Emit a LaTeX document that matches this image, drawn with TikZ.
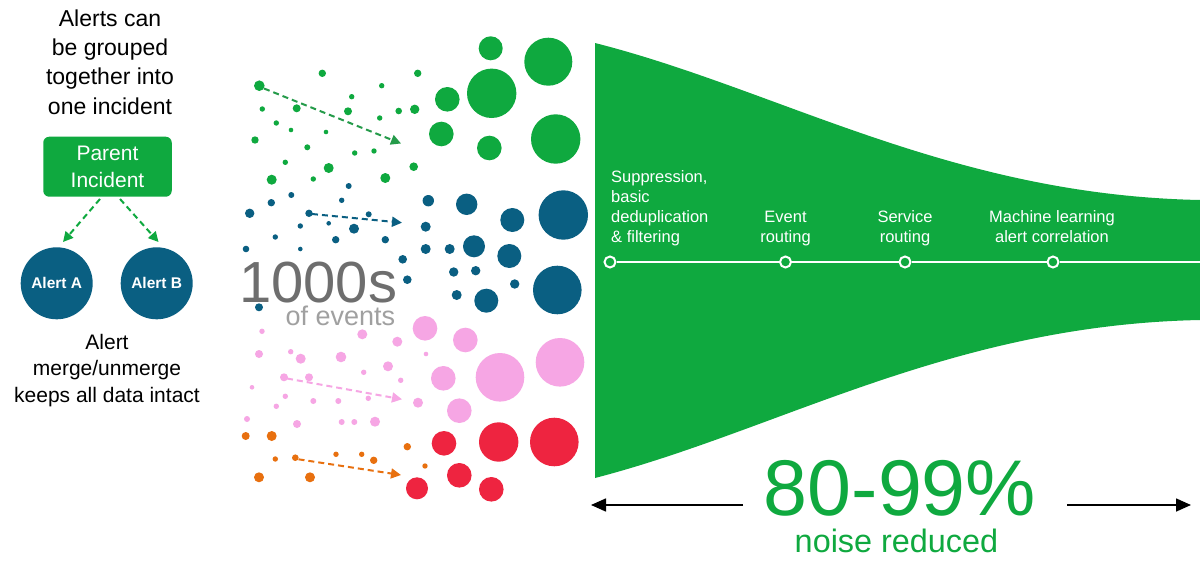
\documentclass[tikz,border=0pt]{standalone}
\usepackage{fontspec}
\setmainfont{Liberation Sans}
\usetikzlibrary{arrows.meta}
\definecolor{gr}{RGB}{15,169,63}
\definecolor{bl}{RGB}{10,95,130}
\definecolor{pk}{RGB}{246,166,228}
\definecolor{rd}{RGB}{238,36,64}
\definecolor{orn}{RGB}{232,112,15}
\definecolor{tgray}{RGB}{110,110,110}
\definecolor{lgray}{RGB}{160,160,160}
\newcommand{\fs}[2]{\fontsize{#1}{#2}\selectfont}
\tikzset{
  darrow/.style={line width=2pt, dash pattern=on 6pt off 4pt, -{Triangle[length=10pt,width=10pt]}},
  blackarrow/.style={line width=1.6pt, black, -{Triangle[length=15pt,width=13pt]}},
  lbl/.style={text=white, inner sep=0pt, font=\fs{16.5}{20}},
  stop/.style={circle, draw=white, fill=gr, line width=2pt, minimum size=11pt, inner sep=0pt},
}
\begin{document}
\begin{tikzpicture}[x=1pt,y=-1pt]
\useasboundingbox (0,0) rectangle (1200,562);
\fill[white] (0,0) rectangle (1200,562);

% ---------- left panel ----------
\node[align=center, inner sep=0pt, anchor=base, font=\fs{23}{29.3}] (grp) at (110,114) {Alerts can\\be grouped\\together into\\one incident};
\node[fill=gr, rounded corners=6pt, minimum width=128.5pt, minimum height=60pt, inner sep=0pt,
      text=white, align=center, font=\fs{21}{26.7}] (parent) at (107.5,166.7) {Parent\\Incident};
\node[circle, fill=bl, minimum size=72pt, inner sep=0pt, text=white, font=\bfseries\fs{15.5}{18}] (alA) at (56.7,283.3) {Alert A};
\node[circle, fill=bl, minimum size=72pt, inner sep=0pt, text=white, font=\bfseries\fs{15.5}{18}] (alB) at (156.7,283.3) {Alert B};
\coordinate (pA) at (100,199);
\coordinate (pB) at (120,199);
\coordinate (tA) at (63,242);
\coordinate (tB) at (158.5,242);
\draw[darrow, gr] (pA) -- (tA);
\draw[darrow, gr] (pB) -- (tB);
\node[align=center, inner sep=0pt, anchor=base, font=\fs{21}{26.5}] (merge) at (107,402) {Alert\\merge/unmerge\\keeps all data intact};

% ---------- dots ----------
% green
\foreach \x/\y/\r in {259.3/85.7/5.3, 322.3/73.3/3.7, 417.7/73.3/3.7, 262.3/109/2.7, 296.7/108.3/4,
  351.7/96.7/2.7, 381.7/85.7/2.7, 348/111.3/4, 379.7/118/2.7, 398.7/111/3.3, 414.7/109.3/4.7,
  276.3/123/2.7, 291/130/2.3, 326/132/2.3, 255/140/3.7, 307.3/147.3/3, 354.7/153/2.7, 374/151/2.7,
  413.7/166.7/4.3, 285.3/162.3/2.7, 328.7/168/5, 271.7/179.7/5, 313.3/179/2.7, 385.3/178/5,
  490.7/48.3/12, 548.3/61.7/24, 447.3/99.3/12.3, 491.7/93.3/24.7, 441.3/134/12.3, 489.3/148/12.3, 555.7/139/24.7}
  \fill[gr] (\x,\y) circle[radius=\r];
% blue
\foreach \x/\y/\r in {348.7/186/3, 291.3/195/3, 271.3/202.7/3.7, 341.7/200.3/2.7, 249.7/213.3/4.7,
  309/213.3/3.7, 368.7/214.3/3, 328.7/223.3/2.3, 300.3/226/2.7, 354/228.7/5, 275.3/237/2.7,
  335.7/239.7/3.7, 385.3/239.7/3.7, 246/249/3.3, 300.3/249/2.3, 402.7/259.3/4.3, 407.3/279.7/4.3, 259/307.3/4,
  428.3/200.7/5.7, 466.7/204.3/10.7, 512.3/220/12, 563.3/215/24.7, 425.7/226.7/5, 425.7/249/5,
  449.7/249/5, 474/246.3/11, 509.3/256/12, 453.7/272/4.7, 475.7/270.7/4.7, 514.7/284/4.7,
  456.7/295/5, 486.3/300.7/12, 557.3/290/24.3}
  \fill[bl] (\x,\y) circle[radius=\r];
% pink
\foreach \x/\y/\r in {262/331.3/2.7, 362.3/334.3/5, 397.3/341.7/5, 259/354/4, 290.7/351.7/2.7,
  300.7/358.7/5, 341/357/5.3, 426/354/2.3, 388/366.3/5, 363.7/372.3/2.7, 284/377.3/4, 309/377.3/4,
  400.7/380.3/2.7, 252/387.3/2.3, 285.3/396.3/2.7, 368.3/398.3/2.7, 418/402.7/5, 276.3/406.3/2.7,
  313.3/401/3, 338.3/401/3, 247/419/3, 297/424/4, 341.7/422/3, 354.3/422/3, 375/421.7/5,
  425/328.3/12.3, 465.3/340/12.3, 443.3/378.3/12.3, 500/377.3/24.3, 560/362.3/24.3, 459.3/410.7/12.3}
  \fill[pk] (\x,\y) circle[radius=\r];
% orange
\foreach \x/\y/\r in {245.7/436/4, 271.7/436/5, 407.3/446.7/3.7, 275.3/459/2.7, 295.3/457.7/3.3,
  336/454.3/2.7, 361.7/454.3/2.7, 373.7/460.3/3.7, 425/466/2.7, 259/477.3/5, 310/477.3/5}
  \fill[orn] (\x,\y) circle[radius=\r];
% red
\foreach \x/\y/\r in {444/443.3/12.3, 498.7/442/19.7, 554.3/442/24.3, 459.3/475.3/12.3, 417/488.3/11, 491.3/489.3/12.3}
  \fill[rd] (\x,\y) circle[radius=\r];

% dashed arrows in the dot field
\coordinate (g1) at (264,88.5);   \coordinate (g2) at (401,143.5);
\coordinate (b1) at (312,214);    \coordinate (b2) at (402,222.7);
\coordinate (p1) at (287,378.5);  \coordinate (p2) at (402,399.3);
\coordinate (o1) at (298.5,459.3);\coordinate (o2) at (401,475);
\draw[darrow, gr!85!black!90] (g1) -- (g2);
\draw[darrow, bl] (b1) -- (b2);
\draw[darrow, pk] (p1) -- (p2);
\draw[darrow, orn] (o1) -- (o2);

% 1000s of events
\node[anchor=base west, inner sep=0pt, text depth=0pt, text=tgray, font=\fs{58}{60}] (thou) at (239,302) {1000s};
\node[anchor=base west, inner sep=0pt, text=lgray, font=\fs{27}{30}] (ofev) at (285.5,325) {of events};

% ---------- funnel ----------
\fill[gr] (595,43) .. controls (780,90) and (950,195) .. (1200,200) -- (1200,320)
  .. controls (950,325) and (780,430) .. (595,478) -- cycle;

\coordinate (tlend) at (1200,262);
\node[stop] (s1) at (610,262) {};
\node[stop] (s2) at (785.5,262) {};
\node[stop] (s3) at (905,262) {};
\node[stop] (s4) at (1053,262) {};
\draw[white, line width=2pt] (s1) -- (s2);
\draw[white, line width=2pt] (s2) -- (s3);
\draw[white, line width=2pt] (s3) -- (s4);
\draw[white, line width=2pt] (s4) -- (tlend);

\node[lbl, align=left, anchor=base west] (l1) at (611,242) {Suppression,\\basic\\deduplication\\\& filtering};
\node[lbl, align=center, anchor=base] (l2) at (785.5,242) {Event\\routing};
\node[lbl, align=center, anchor=base] (l3) at (905,242) {Service\\routing};
\node[lbl, align=center, anchor=base] (l4) at (1052,242) {Machine learning\\alert correlation};

% ---------- bottom ----------
\node[anchor=base, inner sep=0pt, text depth=0pt, text=gr, font=\fs{79}{80}] (pct) at (900,515) {80-99\%};
\node[anchor=base, inner sep=0pt, text=gr, font=\fs{32.4}{34}] (noise) at (896.5,552) {noise reduced};
\coordinate (la) at (743,505); \coordinate (lb) at (591,505);
\coordinate (ra) at (1067,505); \coordinate (rb) at (1191,505);
\draw[blackarrow] (la) -- (lb);
\draw[blackarrow] (ra) -- (rb);
\end{tikzpicture}
\end{document}
